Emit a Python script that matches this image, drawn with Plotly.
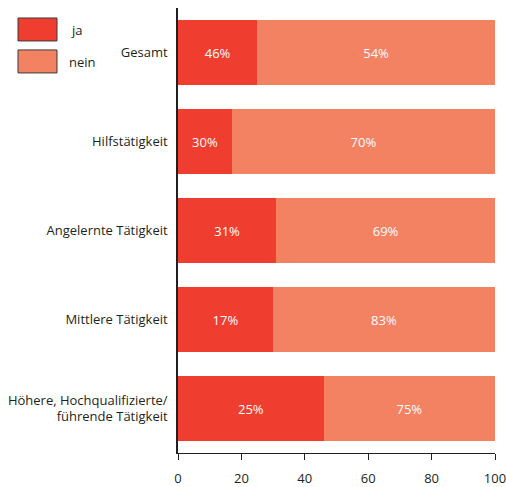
import plotly.graph_objects as go

categories = ["Gesamt", "Hilfstätigkeit", "Angelernte Tätigkeit", "Mittlere Tätigkeit",
              "Höhere, Hochqualifizierte/<br>führende Tätigkeit"]
ja_values = [25, 17, 31, 30, 46]
nein_values = [75, 83, 69, 70, 54]
ja_labels = ["46%", "30%", "31%", "17%", "25%"]
nein_labels = ["54%", "70%", "69%", "83%", "75%"]
x_ticks = [0, 20, 40, 60, 80, 100]

ja_color = "#EF3E2F"
nein_color = "#F38263"
font_family = "Open Sans, Liberation Sans, sans-serif"
text_color = "#231F20"

fig = go.Figure()
fig.add_trace(go.Bar(y=categories, x=ja_values, orientation="h", name="ja",
                     marker=dict(color=ja_color, line=dict(width=0)),
                     text=ja_labels, textposition="inside", insidetextanchor="middle",
                     textfont=dict(color="white", size=13, family=font_family),
                     showlegend=False))
fig.add_trace(go.Bar(y=categories, x=nein_values, orientation="h", name="nein",
                     marker=dict(color=nein_color, line=dict(width=0)),
                     text=nein_labels, textposition="inside", insidetextanchor="middle",
                     textfont=dict(color="white", size=13, family=font_family),
                     showlegend=False))

# plot area target: x 178..495, y 8..453.5 (screen px)
def px_x(px):
    return (px - 178) / 317.0

def px_y(py):
    return (453.5 - py) / 445.5

for (label, color, top, bottom, tx) in [("ja", ja_color, 18, 41, 69), ("nein", nein_color, 50, 73, 67)]:
    fig.add_shape(type="rect", xref="paper", yref="paper",
                  x0=px_x(18), x1=px_x(57), y0=px_y(bottom), y1=px_y(top),
                  fillcolor=color, line=dict(color="#3a3a3a", width=1))
    fig.add_annotation(xref="paper", yref="paper", x=px_x(tx), y=px_y((top + bottom) / 2 + 1),
                       text=label, showarrow=False, xanchor="left", yanchor="middle",
                       font=dict(size=13, color=text_color, family=font_family))

fig.update_layout(
    barmode="stack",
    bargap=0.28,
    width=506, height=487,
    margin=dict(l=178, r=11, t=8, b=33.5, autoexpand=False),
    paper_bgcolor="white", plot_bgcolor="white",
    font=dict(family=font_family, size=13, color=text_color),
    xaxis=dict(range=[0, 100], tickvals=x_ticks, showgrid=False, zeroline=False,
               showline=True, linecolor="#231F20", linewidth=1,
               ticks="outside", ticklen=6, tickcolor="#231F20",
               ticklabelstandoff=7, ticklabeloverflow="allow",
               tickfont=dict(size=13, color=text_color)),
    yaxis=dict(autorange="reversed", showgrid=False, zeroline=False,
               showline=True, linecolor="#231F20", linewidth=1.5,
               ticks="", ticklabelstandoff=6,
               tickfont=dict(size=13, color=text_color)),
)

fig.write_html("out.html",
               config={"displayModeBar": False},
               post_script="document.body.style.margin='0';document.body.style.overflow='hidden';")
